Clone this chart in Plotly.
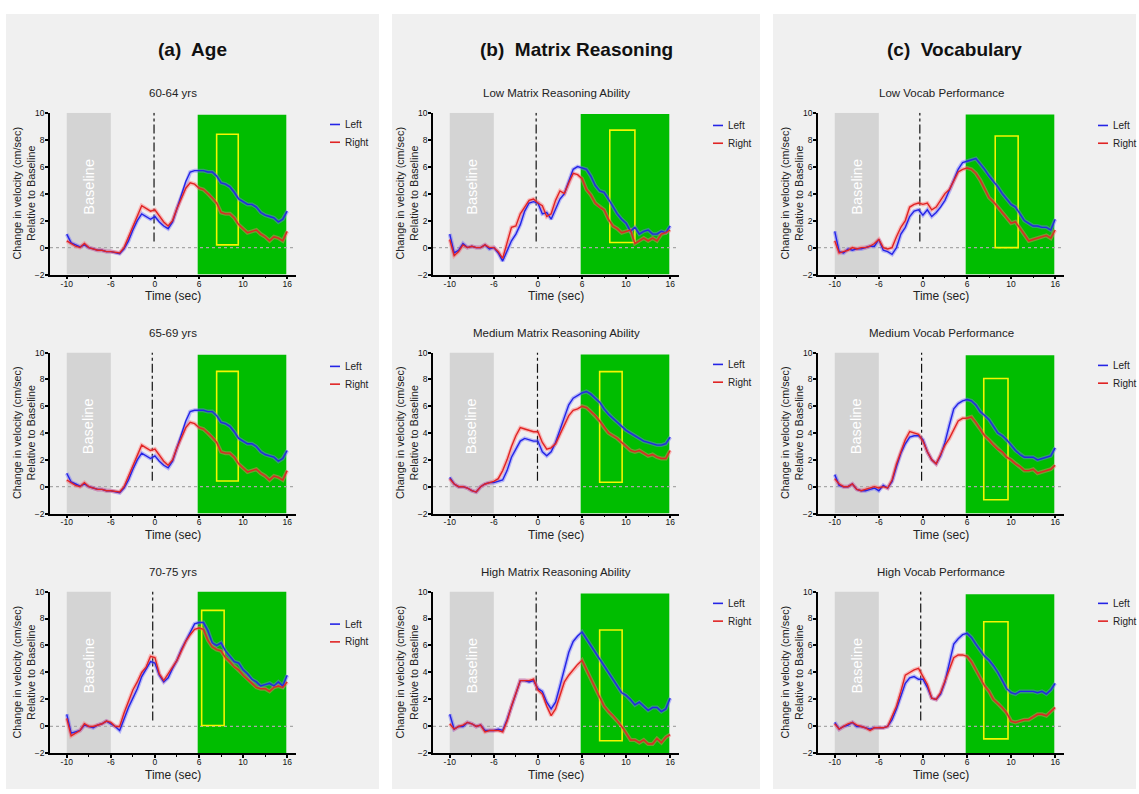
import plotly.graph_objects as go

W, H = 1139, 794

# ---------------- data ----------------
# sample positions along the (evenly spaced) time axis, in tick units
T = [0.0, 0.1, 0.2, 0.3, 0.4, 0.5, 0.6, 0.7, 0.8, 0.9,
     1.0, 1.1, 1.2, 1.3, 1.4, 1.5, 1.6, 1.7, 1.8, 1.9,
     2.0, 2.1, 2.2, 2.3, 2.4, 2.5, 2.6, 2.7, 2.8, 2.9,
     3.0, 3.1, 3.2, 3.3, 3.4, 3.5, 3.6, 3.7, 3.8, 3.9,
     4.0, 4.1, 4.2, 4.3, 4.4, 4.5, 4.6, 4.7, 4.8, 4.9, 5.0]
TICK_POS = [0, 1, 2, 3, 4, 5]
TICK_TEXT = ["-10", "-6", "0", "6", "10", "16"]
Y_TICKS = [-2, 0, 2, 4, 6, 8, 10]

PANEL_TITLES = ["(a)  Age", "(b)  Matrix Reasoning", "(c)  Vocabulary"]
SUB_TITLES = [
    ["60-64 yrs", "65-69 yrs", "70-75 yrs"],
    ["Low Matrix Reasoning Ability", "Medium Matrix Reasoning Ability", "High Matrix Reasoning Ability"],
    ["Low Vocab Performance", "Medium Vocab Performance", "High Vocab Performance"],
]
SERIES = ["Left", "Right"]
X_TITLE = "Time (sec)"
Y_TITLE = "Change in velocity (cm/sec)<br>Relative to Baseline"

AGE_60_LEFT = [1.0, 0.35, 0.2, 0.05, 0.2, 0.0, -0.1, -0.2, -0.2, -0.3,
               -0.3, -0.35, -0.45, -0.1, 0.5, 1.3, 2.0, 2.5, 2.3, 2.1,
               2.3, 1.9, 1.6, 1.4, 1.9, 2.9, 3.8, 4.9, 5.6, 5.7,
               5.7, 5.7, 5.6, 5.6, 5.3, 4.8, 4.7, 4.5, 4.1, 3.6,
               3.4, 3.2, 3.2, 3.0, 2.6, 2.4, 2.3, 2.2, 1.9, 2.1, 2.7]
AGE_60_RIGHT = [0.5, 0.3, 0.1, 0.0, 0.3, 0.0, -0.1, -0.2, -0.2, -0.3,
                -0.3, -0.35, -0.4, 0.0, 0.8, 1.6, 2.4, 3.1, 2.9, 2.7,
                2.8, 2.3, 1.9, 1.6, 2.0, 2.9, 3.7, 4.4, 4.8, 4.7,
                4.4, 4.3, 4.0, 3.7, 3.3, 2.6, 2.5, 2.5, 2.2, 1.7,
                1.4, 1.1, 1.2, 1.3, 1.0, 0.8, 0.5, 0.8, 0.7, 0.5, 1.2]
AGE_65_LEFT = [1.0, 0.35, 0.2, 0.05, 0.2, 0.0, -0.1, -0.2, -0.2, -0.3,
               -0.3, -0.35, -0.45, -0.1, 0.5, 1.3, 2.0, 2.5, 2.3, 2.1,
               2.3, 1.9, 1.6, 1.4, 1.9, 2.9, 3.8, 4.9, 5.6, 5.7,
               5.7, 5.7, 5.6, 5.6, 5.3, 4.8, 4.7, 4.5, 4.1, 3.6,
               3.4, 3.2, 3.2, 3.0, 2.6, 2.4, 2.3, 2.2, 1.9, 2.1, 2.7]
AGE_65_RIGHT = [0.5, 0.3, 0.1, 0.0, 0.3, 0.0, -0.1, -0.2, -0.2, -0.3,
                -0.3, -0.35, -0.4, 0.0, 0.8, 1.6, 2.4, 3.1, 2.9, 2.7,
                2.8, 2.3, 1.9, 1.6, 2.0, 2.9, 3.7, 4.4, 4.8, 4.7,
                4.4, 4.3, 4.0, 3.7, 3.3, 2.6, 2.5, 2.5, 2.2, 1.7,
                1.4, 1.1, 1.2, 1.3, 1.0, 0.8, 0.5, 0.8, 0.7, 0.5, 1.2]
AGE_70_LEFT = [0.9, -0.5, -0.4, -0.3, 0.1, 0.0, -0.1, 0.1, 0.2, 0.4,
               0.2, 0.0, -0.3, 0.6, 1.4, 2.1, 2.8, 3.7, 4.3, 4.8,
               4.7, 3.8, 3.3, 3.6, 4.3, 4.9, 5.7, 6.3, 7.0, 7.6,
               7.7, 7.7, 7.1, 6.2, 6.0, 6.2, 5.6, 5.2, 4.8, 4.7,
               4.2, 3.9, 3.5, 3.3, 3.0, 3.1, 3.2, 3.0, 3.3, 3.0, 3.8]
AGE_70_RIGHT = [0.6, -0.7, -0.5, -0.3, 0.2, 0.0, 0.0, 0.1, 0.2, 0.4,
                0.3, 0.0, 0.0, 1.0, 1.9, 2.7, 3.3, 4.0, 4.4, 5.2,
                5.1, 3.9, 3.4, 3.9, 4.4, 4.9, 5.6, 6.3, 6.8, 7.2,
                7.3, 7.2, 6.4, 5.9, 5.7, 5.6, 5.1, 4.8, 4.4, 4.2,
                3.8, 3.5, 3.2, 2.9, 2.8, 2.8, 2.6, 2.9, 3.0, 2.9, 3.3]

MR_LOW_LEFT = [1.0, -0.4, -0.2, 0.3, 0.0, 0.1, 0.0, 0.0, 0.2, -0.1,
               0.0, -0.4, -1.0, -0.2, 0.5, 1.0, 1.7, 2.7, 3.3, 3.4,
               3.3, 2.5, 2.6, 2.1, 2.8, 3.6, 4.0, 4.9, 5.8, 6.0,
               5.9, 5.8, 5.3, 4.6, 4.2, 4.1, 3.6, 3.0, 2.5, 2.1,
               1.8, 1.2, 1.5, 1.0, 1.2, 1.3, 1.0, 1.0, 1.2, 1.1, 1.6]
MR_LOW_RIGHT = [0.6, -0.6, -0.3, 0.2, 0.0, 0.1, 0.0, 0.0, 0.2, 0.0,
                0.0, -0.3, -0.8, 0.3, 1.5, 1.6, 2.5, 3.0, 3.5, 3.6,
                3.3, 3.1, 2.3, 2.5, 3.5, 4.2, 4.0, 4.8, 5.5, 5.4,
                5.1, 4.3, 3.9, 3.3, 3.0, 2.8, 2.1, 1.6, 1.4, 1.1,
                1.2, 1.3, 0.3, 0.5, 0.7, 0.5, 0.7, 0.5, 1.0, 1.1, 1.3]
MR_MED_LEFT = [0.7, 0.2, 0.0, 0.0, -0.1, -0.3, -0.4, 0.0, 0.2, 0.3,
               0.3, 0.4, 0.5, 1.2, 2.2, 2.8, 3.4, 3.6, 3.5, 3.4,
               3.4, 2.6, 2.3, 2.6, 3.3, 4.2, 5.2, 6.1, 6.6, 6.8,
               7.0, 7.1, 6.9, 6.6, 6.3, 5.8, 5.4, 5.1, 4.8, 4.5,
               4.2, 4.0, 3.8, 3.6, 3.4, 3.3, 3.2, 3.1, 3.1, 3.2, 3.7]
MR_MED_RIGHT = [0.6, 0.2, 0.0, 0.0, -0.1, -0.3, -0.4, 0.0, 0.2, 0.3,
                0.4, 0.6, 1.2, 2.0, 3.0, 3.8, 4.4, 4.3, 4.2, 4.1,
                4.1, 3.3, 2.8, 2.9, 3.2, 3.9, 4.6, 5.3, 5.7, 5.8,
                6.0, 5.9, 5.6, 5.3, 4.9, 4.4, 4.0, 3.8, 3.6, 3.3,
                3.0, 2.7, 2.6, 2.7, 2.5, 2.3, 2.4, 2.2, 2.1, 2.1, 2.7]
MR_HIGH_LEFT = [0.9, -0.2, 0.0, 0.0, 0.3, 0.2, 0.0, 0.1, -0.3, -0.3,
                -0.3, -0.2, -0.3, 0.5, 1.5, 2.5, 3.4, 3.4, 3.3, 3.4,
                2.8, 2.6, 1.8, 1.3, 1.8, 3.0, 4.3, 5.5, 6.3, 6.7,
                7.0, 6.5, 6.0, 5.5, 5.0, 4.5, 4.0, 3.6, 3.0, 2.5,
                2.3, 2.0, 1.6, 1.8, 1.5, 1.2, 1.4, 1.4, 1.1, 1.3, 2.1]
MR_HIGH_RIGHT = [0.2, -0.2, 0.0, 0.1, 0.3, 0.2, 0.0, 0.1, -0.4, -0.3,
                 -0.3, -0.3, -0.4, 0.4, 1.5, 2.4, 3.4, 3.4, 3.4, 3.5,
                 2.7, 2.4, 1.5, 0.8, 1.3, 2.3, 3.3, 3.8, 4.2, 4.6,
                 4.9, 4.2, 3.5, 2.8, 2.2, 1.5, 1.1, 0.8, 0.4, 0.0,
                 -0.5, -1.0, -1.0, -1.2, -1.0, -1.3, -1.3, -0.9, -1.2, -0.8, -0.6]

VOC_LOW_LEFT = [1.2, -0.3, -0.4, -0.1, -0.2, -0.1, -0.1, 0.0, 0.1, 0.1,
                0.6, -0.2, -0.3, -0.5, 0.0, 1.0, 1.5, 2.3, 2.7, 2.8,
                2.4, 2.8, 2.3, 2.6, 3.0, 3.5, 4.2, 5.0, 5.8, 6.3,
                6.4, 6.5, 6.6, 6.2, 5.8, 5.3, 4.9, 4.5, 4.0, 3.6,
                3.2, 3.0, 2.5, 2.0, 1.8, 1.6, 1.6, 1.5, 1.5, 1.3, 2.1]
VOC_LOW_RIGHT = [0.5, -0.4, -0.3, -0.2, 0.0, -0.1, 0.0, 0.0, 0.1, 0.3,
                 0.6, 0.0, -0.1, 0.0, 0.8, 1.5, 2.0, 3.0, 3.2, 3.3,
                 3.2, 3.3, 2.8, 3.0, 3.5, 4.0, 4.3, 5.0, 5.6, 5.8,
                 5.9, 5.8, 5.5, 5.0, 4.4, 3.7, 3.4, 3.0, 2.6, 2.2,
                 1.8, 1.9, 1.4, 0.9, 0.5, 0.6, 0.7, 0.8, 0.9, 0.7, 1.3]
VOC_MED_LEFT = [0.9, 0.1, 0.0, 0.0, 0.2, -0.2, -0.3, -0.3, -0.2, -0.1,
                -0.3, 0.1, -0.1, 0.4, 1.5, 2.5, 3.2, 3.7, 3.8, 3.8,
                3.5, 2.6, 2.0, 1.7, 2.3, 3.3, 4.6, 5.8, 6.2, 6.4,
                6.5, 6.4, 6.1, 5.6, 5.3, 5.0, 4.5, 4.0, 3.8, 3.5,
                3.1, 2.7, 2.4, 2.2, 2.2, 2.2, 2.0, 2.1, 2.2, 2.3, 2.9]
VOC_MED_RIGHT = [0.6, 0.2, 0.0, 0.0, 0.2, -0.2, -0.3, -0.2, -0.1, 0.0,
                 -0.1, 0.0, -0.1, 0.5, 1.7, 2.6, 3.5, 4.1, 4.0, 3.9,
                 3.4, 2.6, 2.0, 1.7, 2.4, 3.1, 3.6, 4.3, 4.9, 5.1,
                 5.1, 5.2, 4.8, 4.3, 3.8, 3.5, 3.1, 2.8, 2.6, 2.2,
                 2.0, 1.7, 1.5, 1.2, 1.2, 1.3, 1.0, 1.1, 1.2, 1.3, 1.6]
VOC_HIGH_LEFT = [0.3, -0.2, 0.0, 0.1, 0.3, 0.0, 0.0, -0.1, -0.2, -0.1,
                 -0.1, -0.1, 0.0, 0.5, 1.3, 2.3, 3.2, 3.6, 3.7, 3.5,
                 3.5, 2.9, 2.1, 2.0, 2.4, 3.3, 4.8, 6.1, 6.5, 6.8,
                 6.9, 6.6, 6.1, 5.6, 5.2, 4.9, 4.5, 4.0, 3.4, 2.8,
                 2.5, 2.4, 2.6, 2.6, 2.6, 2.6, 2.5, 2.6, 2.4, 2.7, 3.2]
VOC_HIGH_RIGHT = [0.2, -0.2, 0.0, 0.2, 0.3, 0.1, 0.0, -0.1, -0.3, -0.1,
                  -0.1, -0.1, 0.0, 0.8, 1.5, 2.6, 3.8, 4.0, 4.2, 4.3,
                  3.7, 3.1, 2.1, 2.0, 2.5, 3.4, 4.3, 5.1, 5.3, 5.3,
                  5.2, 4.8, 4.2, 3.6, 3.0, 2.6, 2.0, 1.7, 1.4, 1.0,
                  0.4, 0.3, 0.4, 0.5, 0.5, 0.7, 0.9, 0.9, 0.8, 1.1, 1.4]

DATA = [
    [(AGE_60_LEFT, AGE_60_RIGHT), (AGE_65_LEFT, AGE_65_RIGHT), (AGE_70_LEFT, AGE_70_RIGHT)],
    [(MR_LOW_LEFT, MR_LOW_RIGHT), (MR_MED_LEFT, MR_MED_RIGHT), (MR_HIGH_LEFT, MR_HIGH_RIGHT)],
    [(VOC_LOW_LEFT, VOC_LOW_RIGHT), (VOC_MED_LEFT, VOC_MED_RIGHT), (VOC_HIGH_LEFT, VOC_HIGH_RIGHT)],
]

# ---------------- layout / styling (positions, not data) ----------------
COL_LEFT_PX = [50, 433, 818]
PLOT_W_PX = 246
ROW_TOP_PX = [109, 352, 594]
ROW_BOT_PX = [273, 515, 758]
PANEL_X_PX = [(6, 379), (392, 760), (773, 1136)]
X_RANGE = [-0.38, 5.2]
Y_RANGE = [-2, 10]

# yellow window boxes (x0, x1, y0, y1) per [col][row]
YELLOW = [
    [(3.40, 3.89, 0.2, 8.4), (3.40, 3.89, 0.43, 8.6), (3.06, 3.57, 0.07, 8.6)],
    [(3.63, 4.20, 0.38, 8.7), (3.40, 3.91, 0.33, 8.58), (3.40, 3.91, -1.06, 7.15)],
    [(3.64, 4.16, 0.0, 8.27), (3.38, 3.93, -0.97, 8.07), (3.38, 3.93, -0.92, 7.76)],
]
GREEN_TOP = [[9.85, 9.84, 10.0], [9.9, 9.86, 9.85], [9.86, 9.8, 9.8]]
ONSET_X = [[1.98, 1.94, 1.95], [1.96, 1.99, 1.96], [1.93, 1.97, 1.95]]
LEG_Y_PX = [[121, 366, 627], [122, 364, 606], [122, 365, 606]]

BLUE = "#2424e6"
RED = "#e02424"
BLUE_HALO = "rgba(110,110,255,0.45)"
RED_HALO = "rgba(255,110,110,0.45)"
GREEN = "#00bd00"
GRAY_BOX = "#d4d4d4"
PANEL_BG = "#f0f0f0"
FONT = "Liberation Sans, Arial, sans-serif"
NARROW = "Liberation Sans Narrow, Arial Narrow, Liberation Sans, Arial, sans-serif"

fig = go.Figure()
shapes = []
annotations = []

for (px0, px1) in PANEL_X_PX:
    shapes.append(dict(type="rect", xref="paper", yref="paper",
                       x0=px0 / W, x1=px1 / W, y0=0, y1=1 - 9 / H,
                       fillcolor=PANEL_BG, line=dict(width=0), layer="below"))

for c in range(3):
    pcx = (PANEL_X_PX[c][0] + PANEL_X_PX[c][1]) / 2
    annotations.append(dict(text="<b>" + PANEL_TITLES[c] + "</b>", xref="paper", yref="paper",
                            x=pcx / W, y=1 - 45 / H, showarrow=False,
                            font=dict(family=NARROW, size=19, color="#111"),
                            xanchor="center", yanchor="middle"))
    for r in range(3):
        k = c * 3 + r + 1
        xa = "x" if k == 1 else f"x{k}"
        ya = "y" if k == 1 else f"y{k}"
        xkey = "xaxis" if k == 1 else f"xaxis{k}"
        ykey = "yaxis" if k == 1 else f"yaxis{k}"
        left = COL_LEFT_PX[c]
        right = left + PLOT_W_PX
        top = ROW_TOP_PX[r]
        bot = ROW_BOT_PX[r]

        fig.layout[xkey] = dict(
            domain=[left / W, right / W], range=X_RANGE, anchor=ya,
            tickmode="array", tickvals=TICK_POS, ticktext=TICK_TEXT,
            showline=True, linecolor="black", linewidth=1.5,
            ticks="outside", ticklen=3, tickwidth=1.5, tickcolor="black",
            ticklabelstandoff=-3,
            minor=dict(ticks="outside", ticklen=2, tickwidth=1, tickcolor="black",
                       tickvals=[0.5, 1.5, 2.5, 3.5, 4.5]),
            showgrid=False, zeroline=False,
            tickfont=dict(family=FONT, size=8.5, color="#111"),
        )
        fig.layout[ykey] = dict(
            domain=[1 - bot / H, 1 - top / H], range=Y_RANGE, anchor=xa,
            tickmode="array", tickvals=Y_TICKS,
            showline=True, linecolor="black", linewidth=1.5,
            ticks="outside", ticklen=3, tickwidth=1.5, tickcolor="black",
            ticklabelstandoff=-1,
            showgrid=False, zeroline=False,
            tickfont=dict(family=FONT, size=8.5, color="#111"),
        )

        # axis titles
        annotations.append(dict(text=X_TITLE, xref="paper", yref="paper",
                                x=(left + PLOT_W_PX / 2) / W, y=1 - (bot + 22) / H,
                                showarrow=False, xanchor="center", yanchor="middle",
                                font=dict(family=FONT, size=12, color="#222")))
        annotations.append(dict(text=Y_TITLE, xref="paper", yref="paper",
                                x=(left - 26) / W, y=1 - (top + bot) / 2 / H,
                                showarrow=False, xanchor="center", yanchor="middle",
                                textangle=-90,
                                font=dict(family=FONT, size=10.8, color="#222")))

        # background regions
        shapes.append(dict(type="rect", xref=xa, yref=ya, x0=0, x1=1, y0=-2, y1=10,
                           fillcolor=GRAY_BOX, line=dict(width=0), layer="below"))
        shapes.append(dict(type="rect", xref=xa, yref=ya, x0=2.97, x1=4.98, y0=-2,
                           y1=GREEN_TOP[c][r], fillcolor=GREEN, line=dict(width=0), layer="below"))
        # zero reference line
        shapes.append(dict(type="line", xref=xa, yref=ya, x0=X_RANGE[0], x1=X_RANGE[1], y0=0, y1=0,
                           line=dict(color="#a8a8a8", width=1.3, dash="dot"), layer="below"))
        # onset line
        shapes.append(dict(type="line", xref=xa, yref=ya, x0=ONSET_X[c][r], x1=ONSET_X[c][r],
                           y0=0.45, y1=10, line=dict(color="#111", width=1.2, dash="dashdot"),
                           layer="below"))
        # yellow window
        x0, x1, y0, y1 = YELLOW[c][r]
        shapes.append(dict(type="rect", xref=xa, yref=ya, x0=x0, x1=x1, y0=y0, y1=y1,
                           line=dict(color="#f5f500", width=1.6), fillcolor="rgba(0,0,0,0)",
                           layer="below"))

        annotations.append(dict(text="Baseline", xref=xa, yref=ya, x=0.5, y=4.5, showarrow=False,
                                textangle=-90, font=dict(family=FONT, size=14.5, color="white")))
        annotations.append(dict(text=SUB_TITLES[c][r], xref="paper", yref="paper",
                                x=(left + PLOT_W_PX / 2) / W, y=1 - (top - 20) / H, showarrow=False,
                                font=dict(family=FONT, size=11.5, color="#222"),
                                xanchor="center", yanchor="middle"))

        left_vals, right_vals = DATA[c][r]
        for vals, halo in ((left_vals, BLUE_HALO), (right_vals, RED_HALO)):
            fig.add_trace(go.Scatter(x=T, y=vals, xaxis=xa, yaxis=ya, mode="lines",
                                     line=dict(color=halo, width=4), showlegend=False,
                                     hoverinfo="skip"))
        for vals, col, name in ((left_vals, BLUE, SERIES[0]), (right_vals, RED, SERIES[1])):
            fig.add_trace(go.Scatter(x=T, y=vals, xaxis=xa, yaxis=ya, mode="lines", name=name,
                                     line=dict(color=col, width=1.4), showlegend=False))

        # legend (drawn as line samples + text)
        for i, (name, col) in enumerate(((SERIES[0], BLUE), (SERIES[1], RED))):
            ly = LEG_Y_PX[c][r] + i * 18
            shapes.append(dict(type="line", xref="paper", yref="paper",
                               x0=(left + 280) / W, x1=(left + 290) / W,
                               y0=1 - ly / H, y1=1 - ly / H, line=dict(color=col, width=1.6)))
            annotations.append(dict(text=name, xref="paper", yref="paper",
                                    x=(left + 293) / W, y=1 - ly / H, showarrow=False,
                                    xanchor="left", yanchor="middle",
                                    font=dict(family=FONT, size=10, color="#222")))

fig.update_layout(
    width=W, height=H,
    margin=dict(l=0, r=0, t=0, b=0),
    paper_bgcolor="white", plot_bgcolor="rgba(0,0,0,0)",
    shapes=shapes, annotations=annotations, showlegend=False,
)

fig.write_html("out.html", config={"displayModeBar": False},
               post_script="document.body.style.margin='0px';")
